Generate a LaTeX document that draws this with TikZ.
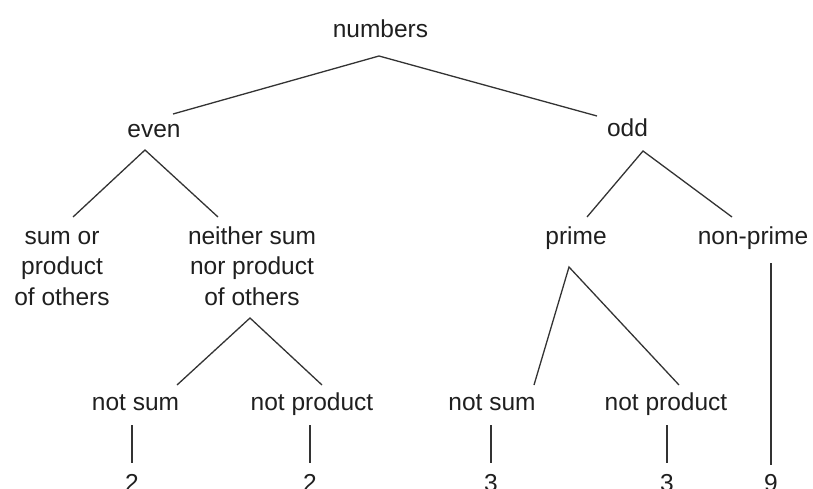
\documentclass[tikz,border=0pt]{standalone}
\usepackage{fontspec}
\setmainfont{Liberation Sans}
\begin{document}
\begin{tikzpicture}[x=1pt,y=-1pt,
  lbl/.style={anchor=base,inner sep=0pt,align=center,text=black!88,
    font=\fontsize{24.5}{30.5}\selectfont},
  edge/.style={draw=black!80,line width=1.3pt}]
\useasboundingbox (0,0) rectangle (813,489);
\clip (0,0) rectangle (813,489);
% labels, placed by their (last) baseline
\node[lbl] (numbers)  at (380.5,38)  {numbers};
\node[lbl] (even)     at (154,138)   {even};
\node[lbl] (odd)      at (627.5,137) {odd};
\node[lbl] (sum)      at (62,305)    {sum or\\product\\of others};
\node[lbl] (neither)  at (252,305)   {neither sum\\nor product\\of others};
\node[lbl] (prime)    at (576,244)   {prime};
\node[lbl] (nonprime) at (753,244)   {non-prime};
\node[lbl] (ns1)      at (135.5,410) {not sum};
\node[lbl] (np1)      at (312,410)   {not product};
\node[lbl] (ns2)      at (492,410)   {not sum};
\node[lbl] (np2)      at (666,410)   {not product};
\node[lbl] (d1)       at (132,491.5) {2};
\node[lbl] (d2)       at (310,491.5) {2};
\node[lbl] (d3)       at (491,491.5) {3};
\node[lbl] (d4)       at (667,491.5) {3};
\node[lbl] (d9)       at (771,491.5) {9};
% branches
\draw[edge] ([shift={(19,-24)}]even.base) -- ([shift={(-1.5,18)}]numbers.base)
            -- ([shift={(-30.5,-21)}]odd.base);
\draw[edge] ([shift={(11,-88)}]sum.base) -- ([shift={(-9,12)}]even.base)
            -- ([shift={(-34,-88)}]neither.base);
\draw[edge] ([shift={(11,-27)}]prime.base) -- ([shift={(15.5,14)}]odd.base)
            -- ([shift={(-21,-27)}]nonprime.base);
\draw[edge] ([shift={(41.5,-25)}]ns1.base) -- ([shift={(-2,13)}]neither.base)
            -- ([shift={(10,-25)}]np1.base);
\draw[edge] ([shift={(42,-25)}]ns2.base) -- ([shift={(-7,23)}]prime.base)
            -- ([shift={(13,-25)}]np2.base);
\draw[edge] ([shift={(18,19)}]nonprime.base) -- ([shift={(0,-26.5)}]d9.base);
\draw[edge] ([shift={(-3.5,15)}]ns1.base) -- ([shift={(0,-28.5)}]d1.base);
\draw[edge] ([shift={(-2,15)}]np1.base) -- ([shift={(0,-28.5)}]d2.base);
\draw[edge] ([shift={(-1,15)}]ns2.base) -- ([shift={(0,-28.5)}]d3.base);
\draw[edge] ([shift={(1,15)}]np2.base) -- ([shift={(0,-28.5)}]d4.base);
\end{tikzpicture}
\end{document}
